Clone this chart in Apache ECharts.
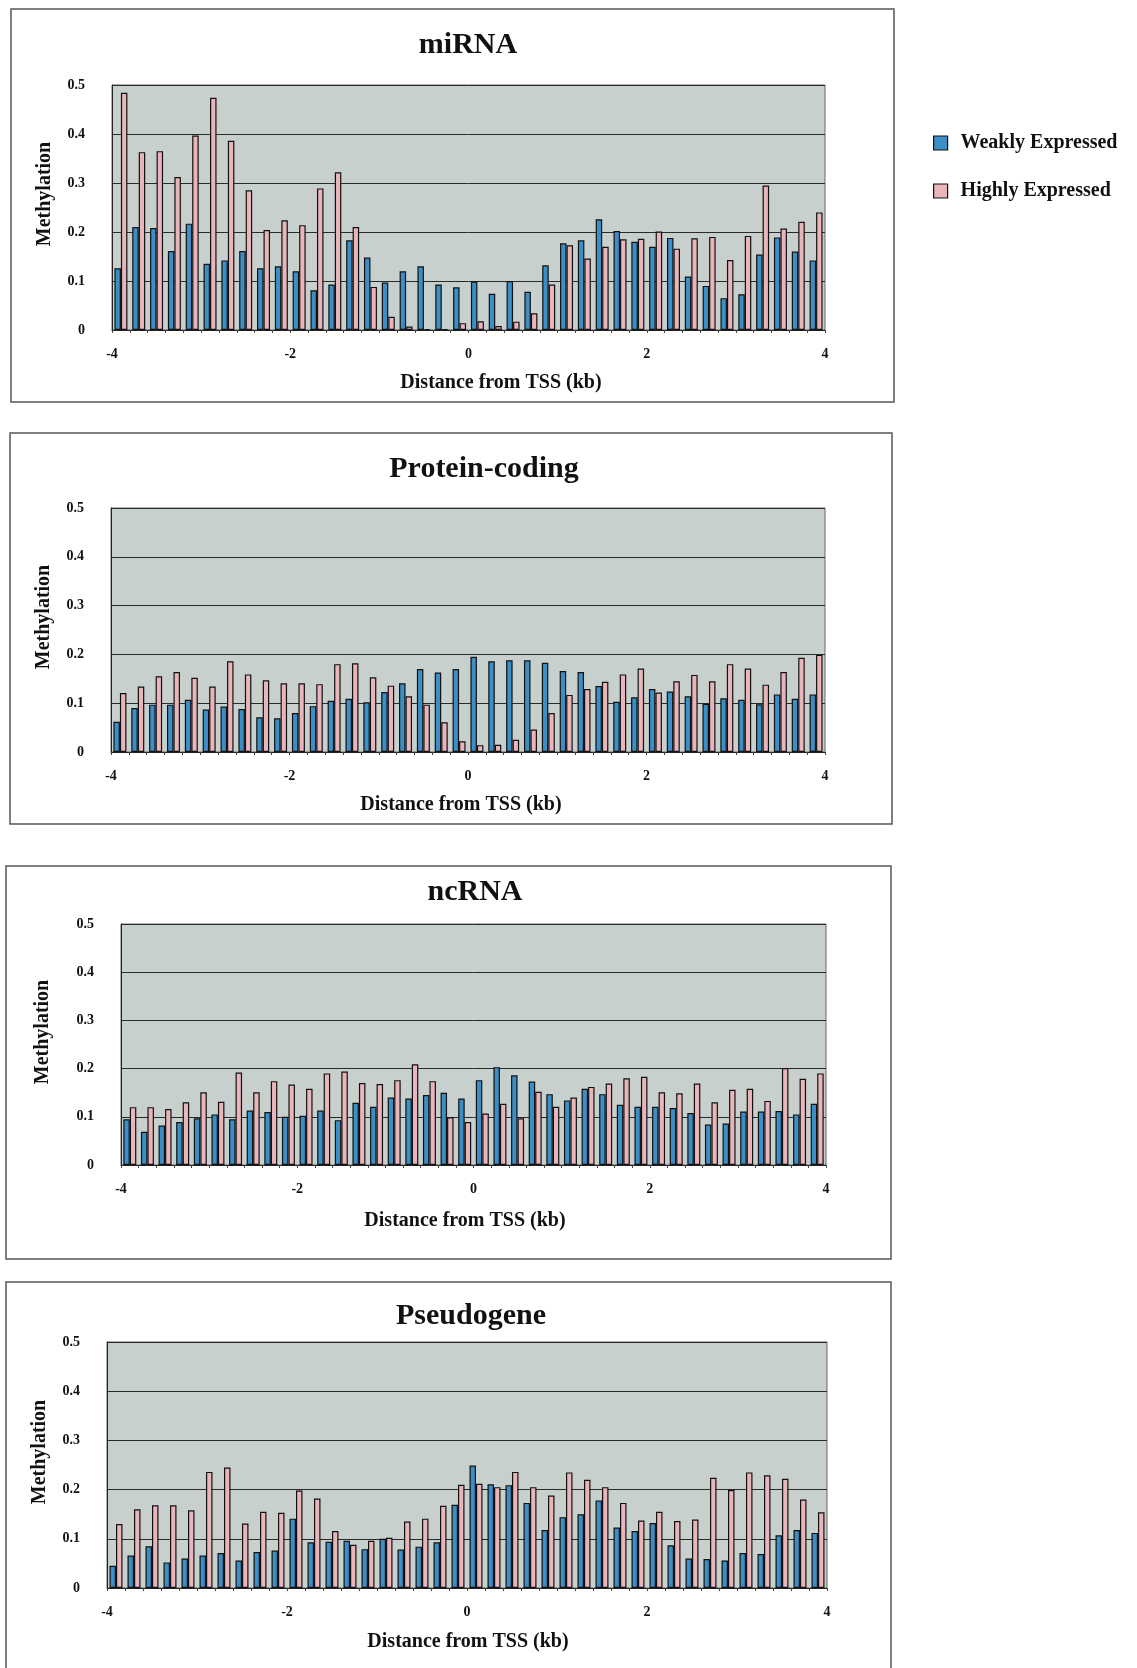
<!DOCTYPE html>
<html>
<head>
<meta charset="utf-8">
<script src="https://cdn.jsdelivr.net/npm/echarts@6/dist/echarts.min.js"></script>
<style>
  html, body { margin: 0; padding: 0; background: #fff; }
  #main { width: 1137px; height: 1668px; }
</style>
</head>
<body>
<div id="main"></div>
<script>
// bins of 200bp from -4kb to +4kb (bin centres)
var bins = ['-3.9','-3.7','-3.5','-3.3','-3.1','-2.9','-2.7','-2.5','-2.3','-2.1',
            '-1.9','-1.7','-1.5','-1.3','-1.1','-0.9','-0.7','-0.5','-0.3','-0.1',
            '0.1','0.3','0.5','0.7','0.9','1.1','1.3','1.5','1.7','1.9',
            '2.1','2.3','2.5','2.7','2.9','3.1','3.3','3.5','3.7','3.9'];

var mirnaWeak = [0.126,0.21,0.208,0.161,0.217,0.135,0.142,0.161,0.126,0.13,
                 0.12,0.081,0.093,0.183,0.148,0.097,0.12,0.13,0.093,0.087,
                 0.099,0.074,0.1,0.078,0.132,0.177,0.183,0.226,0.202,0.18,
                 0.17,0.188,0.109,0.09,0.065,0.073,0.154,0.189,0.16,0.142];
var mirnaHigh = [0.484,0.363,0.365,0.312,0.397,0.474,0.386,0.285,0.204,0.224,
                 0.214,0.289,0.322,0.21,0.088,0.027,0.007,0.002,0.002,0.014,
                 0.018,0.008,0.017,0.034,0.093,0.173,0.146,0.17,0.185,0.186,
                 0.201,0.166,0.187,0.19,0.143,0.192,0.295,0.207,0.221,0.24];

var proteinWeak = [0.062,0.09,0.097,0.097,0.107,0.087,0.093,0.088,0.071,0.069,
                   0.08,0.094,0.105,0.109,0.102,0.123,0.141,0.17,0.163,0.17,
                   0.195,0.186,0.188,0.188,0.183,0.166,0.164,0.135,0.103,0.112,
                   0.129,0.124,0.114,0.099,0.11,0.107,0.098,0.118,0.109,0.118];
var proteinHigh = [0.121,0.134,0.155,0.164,0.152,0.134,0.186,0.159,0.147,0.141,
                   0.141,0.139,0.18,0.182,0.153,0.136,0.114,0.097,0.061,0.022,
                   0.014,0.015,0.025,0.046,0.08,0.117,0.129,0.144,0.159,0.171,
                   0.122,0.145,0.158,0.145,0.18,0.171,0.138,0.164,0.193,0.199];

var ncrnaWeak = [0.095,0.069,0.082,0.089,0.097,0.105,0.095,0.113,0.11,0.1,
                 0.102,0.113,0.093,0.129,0.121,0.14,0.138,0.145,0.15,0.138,
                 0.176,0.203,0.186,0.173,0.147,0.134,0.158,0.147,0.125,0.121,
                 0.121,0.118,0.108,0.084,0.086,0.111,0.111,0.112,0.105,0.127];
var ncrnaHigh = [0.12,0.12,0.116,0.13,0.151,0.131,0.192,0.151,0.174,0.167,
                 0.158,0.19,0.194,0.17,0.168,0.176,0.209,0.174,0.099,0.089,
                 0.107,0.127,0.097,0.152,0.121,0.14,0.162,0.169,0.18,0.183,
                 0.151,0.149,0.169,0.13,0.156,0.158,0.133,0.201,0.179,0.19];

var pseudoWeak = [0.045,0.066,0.085,0.052,0.06,0.066,0.071,0.056,0.073,0.076,
                  0.141,0.093,0.094,0.096,0.079,0.1,0.078,0.084,0.093,0.169,
                  0.249,0.211,0.209,0.173,0.118,0.144,0.15,0.178,0.123,0.116,
                  0.132,0.087,0.06,0.059,0.056,0.071,0.069,0.107,0.118,0.112];
var pseudoHigh = [0.13,0.16,0.168,0.168,0.158,0.236,0.245,0.131,0.155,0.153,
                  0.198,0.182,0.116,0.088,0.096,0.102,0.135,0.141,0.167,0.21,
                  0.212,0.205,0.236,0.205,0.188,0.235,0.22,0.205,0.173,0.137,
                  0.155,0.136,0.139,0.224,0.199,0.235,0.229,0.222,0.18,0.154];

var panelTitles = ['miRNA', 'Protein-coding', 'ncRNA', 'Pseudogene'];
var xTickLabels = [-4, -2, 0, 2, 4];
var seriesNames = ['Weakly Expressed', 'Highly Expressed'];
var xTitle = 'Distance from TSS (kb)';
var yTitle = 'Methylation';

var panels = [
  { weak: mirnaWeak,   high: mirnaHigh,   grid: { left: 112, top: 85,   width: 713, height: 245 }, frame: [11, 9, 883, 393],
    titleXY: [468, 45],   xTitleXY: [501, 383],  yTitleXY: [45, 194] },
  { weak: proteinWeak, high: proteinHigh, grid: { left: 111, top: 508,  width: 714, height: 244 }, frame: [10, 433, 882, 391],
    titleXY: [484, 469],  xTitleXY: [461, 805],  yTitleXY: [44, 617] },
  { weak: ncrnaWeak,   high: ncrnaHigh,   grid: { left: 121, top: 924,  width: 705, height: 241 }, frame: [6, 866, 885, 393],
    titleXY: [475, 892],  xTitleXY: [465, 1221], yTitleXY: [43, 1032] },
  { weak: pseudoWeak,  high: pseudoHigh,  grid: { left: 107, top: 1342, width: 720, height: 246 }, frame: [6, 1282, 885, 420],
    titleXY: [471, 1316], xTitleXY: [468, 1642], yTitleXY: [40, 1452] }
];

var FONT = '"Liberation Serif", "Times New Roman", serif';
var BLUE = '#3b8ec6';
var PINK = '#e9b5bb';

var chart = echarts.init(document.getElementById('main'), null, { renderer: 'canvas' });

var grids = [], xAxes = [], yAxes = [], series = [], graphics = [];

panels.forEach(function (p, i) {
  grids.push({
    left: p.grid.left, top: p.grid.top, width: p.grid.width, height: p.grid.height,
    show: true, backgroundColor: '#c7d0cd', borderColor: '#666', borderWidth: 1
  });

  // category axis carries the bars
  xAxes.push({
    type: 'category', gridIndex: i, data: bins, position: 'bottom',
    axisLine: { onZero: false, lineStyle: { color: '#222', width: 1 } },
    axisTick: { show: true, interval: 0, length: 3, lineStyle: { color: '#444' } },
    axisLabel: { show: false }
  });
  // value axis just for the -4 .. 4 labels
  xAxes.push({
    type: 'value', gridIndex: i, min: -4, max: 4, interval: 2, position: 'bottom',
    axisLine: { show: false, onZero: false }, axisTick: { show: false }, splitLine: { show: false },
    axisLabel: {
      margin: 17, fontFamily: FONT, fontWeight: 'bold', fontSize: 14, color: '#111',
      formatter: function (v) { return xTickLabels.indexOf(v) >= 0 ? String(v) : ''; }
    }
  });

  yAxes.push({
    type: 'value', gridIndex: i, min: 0, max: 0.5, interval: 0.1,
    axisLine: { show: true, onZero: false, lineStyle: { color: '#222' } },
    axisTick: { show: false },
    splitLine: { show: true, lineStyle: { color: '#2a2a2a', width: 1 } },
    axisLabel: { margin: 27, fontFamily: FONT, fontWeight: 'bold', fontSize: 14, color: '#111' }
  });

  series.push({
    name: seriesNames[0], type: 'bar', xAxisIndex: i * 2, yAxisIndex: i,
    data: p.weak, barWidth: 6.5, barGap: '0%',
    itemStyle: { color: BLUE, borderColor: '#111', borderWidth: 1.2 }
  });
  series.push({
    name: seriesNames[1], type: 'bar', xAxisIndex: i * 2, yAxisIndex: i,
    data: p.high, barWidth: 6.5, barGap: '0%',
    itemStyle: { color: PINK, borderColor: '#111', borderWidth: 1.2 }
  });

  graphics.push({
    type: 'rect', silent: true, z: -1,
    shape: { x: p.frame[0], y: p.frame[1], width: p.frame[2], height: p.frame[3] },
    style: { fill: '#fff', stroke: '#555', lineWidth: 1.5 }
  });
  graphics.push({
    type: 'text', silent: true,
    x: p.titleXY[0], y: p.titleXY[1],
    style: {
      text: panelTitles[i], textAlign: 'center', textVerticalAlign: 'middle',
      font: 'bold 30px ' + FONT, fill: '#111'
    }
  });
  graphics.push({
    type: 'text', silent: true,
    x: p.xTitleXY[0], y: p.xTitleXY[1],
    style: {
      text: xTitle, textAlign: 'center', textVerticalAlign: 'middle',
      font: 'bold 20px ' + FONT, fill: '#111'
    }
  });
  graphics.push({
    type: 'text', silent: true,
    x: p.yTitleXY[0], y: p.yTitleXY[1], rotation: Math.PI / 2,
    style: {
      text: yTitle, textAlign: 'center', textVerticalAlign: 'middle',
      font: 'bold 20px ' + FONT, fill: '#111'
    }
  });
});

chart.setOption({
  animation: false,
  backgroundColor: '#fff',
  grid: grids,
  xAxis: xAxes,
  yAxis: yAxes,
  legend: {
    data: seriesNames, orient: 'vertical', left: 928, top: 128,
    icon: 'rect', itemWidth: 14, itemHeight: 14, itemGap: 28,
    itemStyle: { borderColor: '#111', borderWidth: 1.2 },
    textStyle: { fontFamily: FONT, fontWeight: 'bold', fontSize: 20, color: '#111', padding: [0, 0, 0, 8] }
  },
  graphic: graphics,
  series: series
});
</script>
</body>
</html>
